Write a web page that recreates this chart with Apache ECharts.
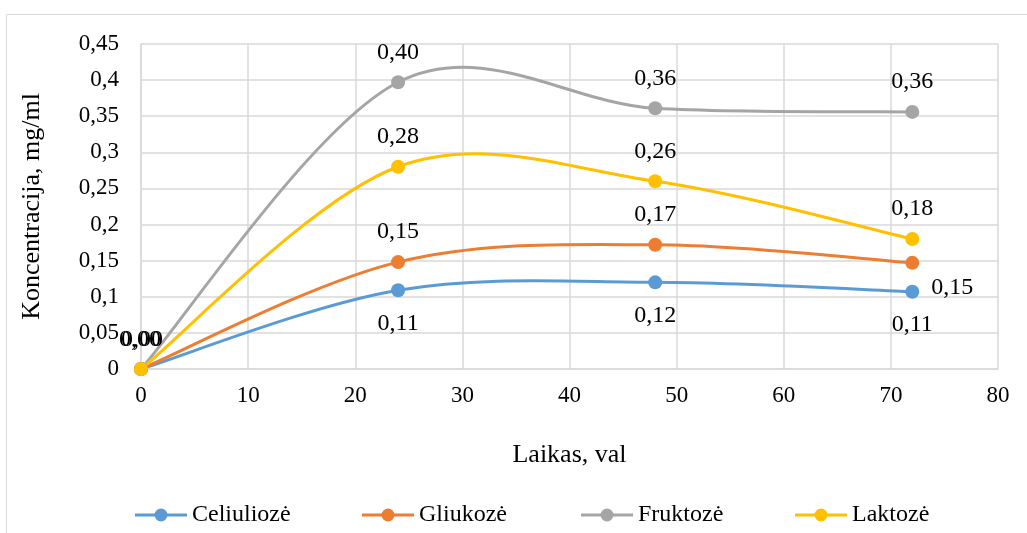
<!DOCTYPE html>
<html>
<head>
<meta charset="utf-8">
<script src="https://cdn.jsdelivr.net/npm/echarts@6/dist/echarts.min.js"></script>
<style>html,body{margin:0;padding:0;background:#fff}#c{width:1027px;height:533px}</style>
</head>
<body>
<div id="c"></div>
<script>
var hours = [0, 24, 48, 72];
var celiulioze = [0, 0.109, 0.12, 0.107];
var gliukoze = [0, 0.148, 0.172, 0.147];
var fruktoze = [0, 0.397, 0.361, 0.356];
var laktoze = [0, 0.28, 0.26, 0.18];
var seriesNames = ['Celiuliozė', 'Gliukozė', 'Fruktozė', 'Laktozė'];
var colors = ['#5B9BD5', '#ED7D31', '#A5A5A5', '#FFC000'];
var xTitle = 'Laikas, val';
var yTitle = 'Koncentracija, mg/ml';

var font = '"Liberation Serif", "Times New Roman", serif';
function fmt(v){ return v.toFixed(2).replace('.', ','); }
function pairs(arr){ return hours.map(function(h,i){ return [h, arr[i]]; }); }

// Excel-style smoothed curve (Catmull-Rom -> cubic Bezier) drawn through axis coords
function curveSeries(idx, arr){
  var pts = pairs(arr);
  return {
    name: seriesNames[idx], type: 'custom', data: pts.slice(0, pts.length - 1),
    z: 2 + idx, silent: true,
    renderItem: function(params, api){
      var i = params.dataIndex;
      var c = pts.map(function(p){ return api.coord(p); });
      var p0 = c[Math.max(i - 1, 0)], p1 = c[i], p2 = c[i + 1], p3 = c[Math.min(i + 2, c.length - 1)];
      return {
        type: 'bezierCurve',
        shape: {
          x1: p1[0], y1: p1[1], x2: p2[0], y2: p2[1],
          cpx1: p1[0] + (p2[0] - p0[0]) / 6, cpy1: p1[1] + (p2[1] - p0[1]) / 6,
          cpx2: p2[0] - (p3[0] - p1[0]) / 6, cpy2: p2[1] - (p3[1] - p1[1]) / 6
        },
        style: {stroke: colors[idx], lineWidth: 3, fill: null, lineCap: 'round'}
      };
    }
  };
}

function markerSeries(idx, arr, labelCfg){
  var data = pairs(arr).map(function(p, i){
    var item = {value: p};
    if (labelCfg[i]) item.label = labelCfg[i];
    return item;
  });
  return {
    name: seriesNames[idx], type: 'line', data: data,
    symbol: 'circle', symbolSize: 14,
    lineStyle: {color: colors[idx], width: 0, opacity: 0},
    itemStyle: {color: colors[idx]},
    label: {show: true, position: 'top', distance: 11, color: '#000',
      fontFamily: font, fontSize: 24,
      formatter: function(p){ return fmt(p.value[1]); }},
    z: 10 + idx
  };
}

var legendIcon = 'path://M0,5.5H52V8.5H0Z M32.5,7A6.5,6.5,0,1,1,19.5,7A6.5,6.5,0,1,1,32.5,7Z';
var legendLefts = [135, 362, 581, 795];
var legends = seriesNames.map(function(n, i){
  return {
    left: legendLefts[i], top: 503, padding: 0, itemWidth: 52, itemHeight: 14,
    textStyle: {fontFamily: font, fontSize: 24, color: '#000'},
    data: [{name: n, icon: legendIcon, itemStyle: {color: colors[i]}}]
  };
});

var hide = {show: false};
var below = {position: 'bottom', distance: 14};
var series = [];
[celiulioze, gliukoze, fruktoze, laktoze].forEach(function(arr, i){ series.push(curveSeries(i, arr)); });
series.push(markerSeries(0, celiulioze, [hide, below, below, below]));
series.push(markerSeries(1, gliukoze, [hide, null, null, {position: 'right', distance: 12, offset: [0, 25]}]));
series.push(markerSeries(2, fruktoze, [{distance: 10, offset: [-1, 0]}]));
series.push(markerSeries(3, laktoze, [{distance: 10, offset: [1, 0]}]));

var option = {
  animation: false,
  backgroundColor: '#fff',
  graphic: [{type: 'rect', shape: {x: 6.5, y: 14.5, width: 1040, height: 530},
    style: {fill: 'none', stroke: '#d9d9d9', lineWidth: 1}, z: -1}],
  grid: {left: 141, right: 29, top: 44, bottom: 164},
  legend: legends,
  xAxis: {
    type: 'value', min: 0, max: 80, interval: 10,
    name: xTitle, nameLocation: 'middle', nameGap: 73,
    nameTextStyle: {fontFamily: font, fontSize: 26, color: '#000'},
    axisLine: {show: true, lineStyle: {color: '#d9d9d9', width: 1.5}},
    axisTick: {show: false},
    axisLabel: {fontFamily: font, fontSize: 23, color: '#000', margin: 15},
    splitLine: {show: true, lineStyle: {color: '#d9d9d9', width: 1.5}}
  },
  yAxis: {
    type: 'value', min: 0, max: 0.45, interval: 0.05,
    name: yTitle, nameLocation: 'middle', nameGap: 96, nameRotate: 90,
    nameTextStyle: {fontFamily: font, fontSize: 26, color: '#000'},
    axisLine: {show: true, lineStyle: {color: '#d9d9d9', width: 1.5}},
    axisTick: {show: false},
    axisLabel: {fontFamily: font, fontSize: 23, color: '#000', margin: 22,
      formatter: function(v){ return String(Math.round(v*100)/100).replace('.', ','); }},
    splitLine: {show: true, lineStyle: {color: '#d9d9d9', width: 1.5}}
  },
  series: series
};
var chart = echarts.init(document.getElementById('c'), null, {renderer: 'canvas'});
chart.setOption(option);
</script>
</body>
</html>
